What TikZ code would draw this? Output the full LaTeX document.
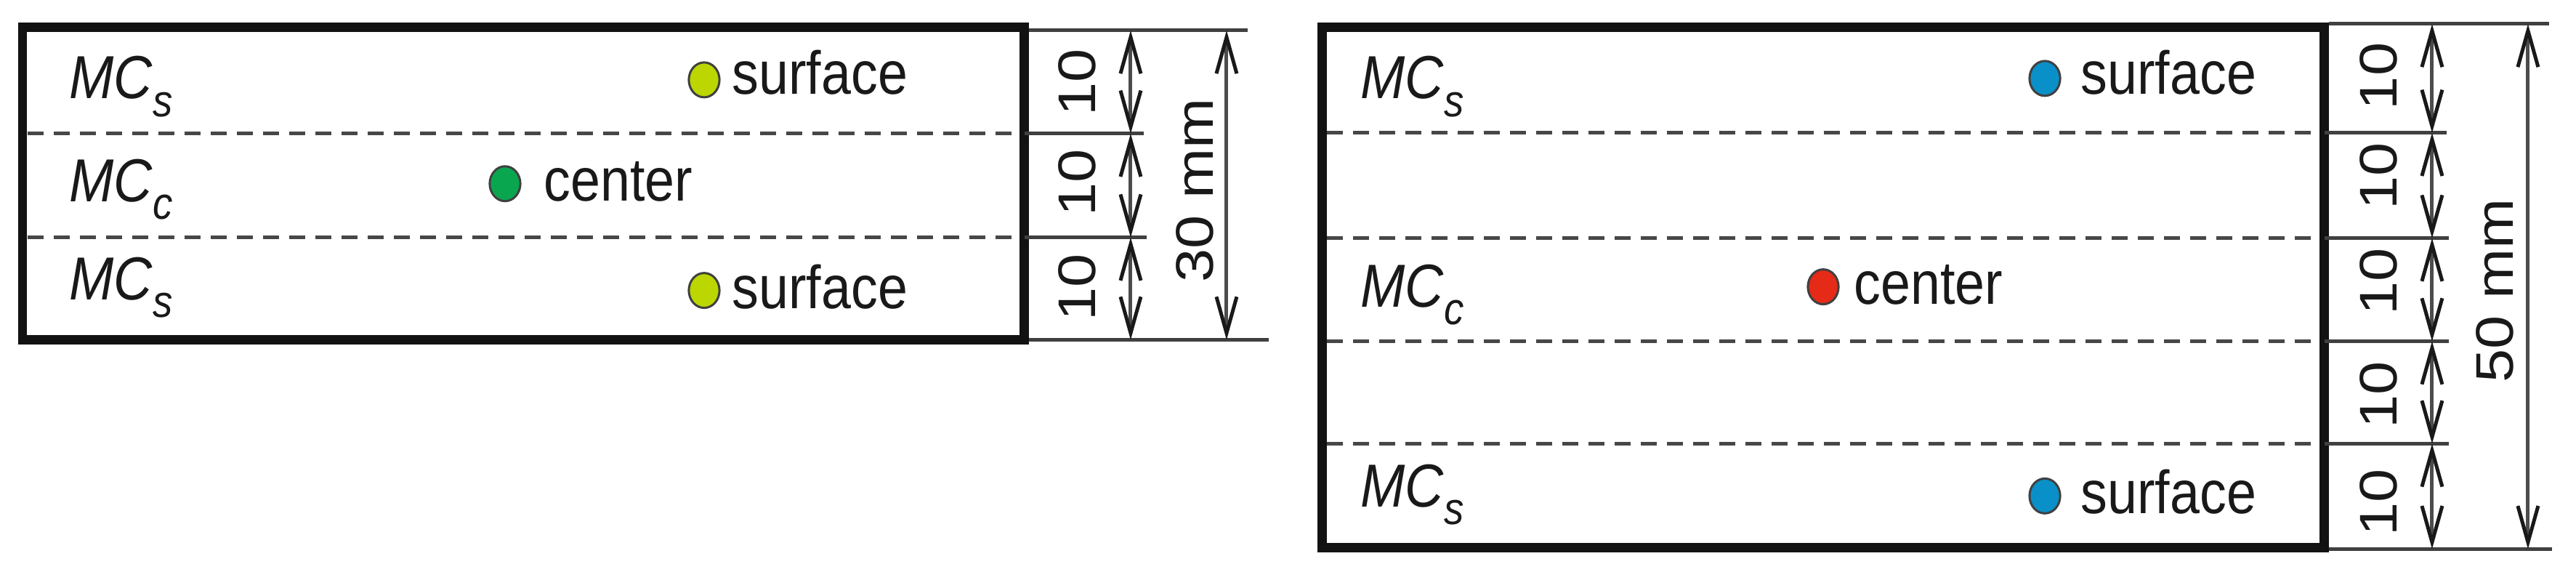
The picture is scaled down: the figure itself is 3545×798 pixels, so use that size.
\documentclass[tikz,border=0pt]{standalone}
\usepackage{fontspec}
\setmainfont{Liberation Sans}
\usepackage{xcolor}
\usepackage{tikz}
\usetikzlibrary{positioning,arrows.meta}
\definecolor{lime}{HTML}{BBD600}
\definecolor{leaf}{HTML}{0AA64F}
\definecolor{tomato}{HTML}{E52A18}
\definecolor{sky}{HTML}{0A90C8}
\newcommand{\mclabel}[1]{\textit{MC}\raisebox{-.29em}{\fontsize{17.7}{20}\selectfont\itshape #1}}

\begin{document}
\begin{tikzpicture}[xscale=0.88, x=0.011364cm, y=-0.01cm,
		slab/.style = {line width=0.13cm, draw=black!93},
		layer/.style = {line width=0.05cm, draw=black!72, dash pattern=on 0.22cm off 0.14cm},
		ext/.style = {line width=0.05cm, draw=black!75},
		dim/.style = {line width=0.05cm, draw=black!70, {Straight Barb[length=0.5cm,width=0.28cm,color=black!90]}-{Straight Barb[length=0.5cm,width=0.28cm,color=black!90]}},
		txt/.style = {transform shape, inner sep=0pt, anchor=base west, text=black!90, font=\fontsize{23.8}{28}\selectfont},
		num/.style = {transform shape, inner sep=0pt, rotate=90, text=black!90, font=\fontsize{23.6}{28}\selectfont},
		ball/.style = {circle, transform shape, draw=black!75, line width=0.03cm, minimum size=0.48cm, inner sep=0pt}]
	\useasboundingbox (0,0) rectangle (3545,798);

	% left sample
	\coordinate (lnw) at (31,38);
	\coordinate (lse) at (1410,468);
	\coordinate (lw1) at (38,184);
	\coordinate (le1) at (1410,184);
	\coordinate (lx1) at (1574,184);
	\coordinate (lw2) at (38,327);
	\coordinate (le2) at (1410,327);
	\coordinate (lx2) at (1578,327);
	\coordinate (lt0) at (1416,42);
	\coordinate (lt1) at (1717,42);
	\coordinate (lb0) at (1416,468);
	\coordinate (lb1) at (1746,468);
	\coordinate (la0) at (1556,42);
	\coordinate (la1) at (1556,184);
	\coordinate (la2) at (1556,327);
	\coordinate (la3) at (1556,468);
	\coordinate (lo0) at (1688,42);
	\coordinate (lo1) at (1688,468);

	\draw[layer] (lw1) -- (le1);
	\draw[layer] (lw2) -- (le2);
	\draw[slab] (lnw) rectangle (lse);
	\draw[ext] (le1) -- (lx1);
	\draw[ext] (le2) -- (lx2);
	\draw[ext] (lt0) -- (lt1);
	\draw[ext] (lb0) -- (lb1);
	\draw[dim] (la0) -- (la1);
	\draw[dim] (la1) -- (la2);
	\draw[dim] (la2) -- (la3);
	\draw[dim] (lo0) -- (lo1);

	\node[txt] (lmc1) at (95,136) {\mclabel{s}};
	\node[txt] (lmc2) at (95,278) {\mclabel{c}};
	\node[txt] (lmc3) at (95,413) {\mclabel{s}};
	\node[ball, fill=lime] (ld1) at (969,110) {};
	\node[ball, fill=leaf] (ld2) at (695,253) {};
	\node[ball, fill=lime] (ld3) at (969,400) {};
	\node[txt] (ls1) at (1007,130) {surface};
	\node[txt] (ls2) at (748,277) {center};
	\node[txt] (ls3) at (1007,425) {surface};
	\node[num] (ln1) at (1482,114) {10};
	\node[num] (ln2) at (1482,252) {10};
	\node[num] (ln3) at (1482,396) {10};
	\node[num] (lnt) at (1644,262) {30 mm};

	% right sample
	\coordinate (rnw) at (1820,38);
	\coordinate (rse) at (3199,754);
	\coordinate (rw1) at (1826,183);
	\coordinate (re1) at (3199,183);
	\coordinate (rx1) at (3367,183);
	\coordinate (rw2) at (1826,328);
	\coordinate (re2) at (3199,328);
	\coordinate (rx2) at (3370,328);
	\coordinate (rw3) at (1826,470);
	\coordinate (re3) at (3199,470);
	\coordinate (rx3) at (3370,470);
	\coordinate (rw4) at (1826,611);
	\coordinate (re4) at (3199,611);
	\coordinate (rx4) at (3370,611);
	\coordinate (rt0) at (3205,33);
	\coordinate (rt1) at (3508,33);
	\coordinate (rb0) at (3205,756);
	\coordinate (rb1) at (3512,756);
	\coordinate (ra0) at (3347,33);
	\coordinate (ra1) at (3347,183);
	\coordinate (ra2) at (3347,328);
	\coordinate (ra3) at (3347,470);
	\coordinate (ra4) at (3347,611);
	\coordinate (ra5) at (3347,756);
	\coordinate (ro0) at (3479,33);
	\coordinate (ro1) at (3479,756);

	\draw[layer] (rw1) -- (re1);
	\draw[layer] (rw2) -- (re2);
	\draw[layer] (rw3) -- (re3);
	\draw[layer] (rw4) -- (re4);
	\draw[slab] (rnw) rectangle (rse);
	\draw[ext] (re1) -- (rx1);
	\draw[ext] (re2) -- (rx2);
	\draw[ext] (re3) -- (rx3);
	\draw[ext] (re4) -- (rx4);
	\draw[ext] (rt0) -- (rt1);
	\draw[ext] (rb0) -- (rb1);
	\draw[dim] (ra0) -- (ra1);
	\draw[dim] (ra1) -- (ra2);
	\draw[dim] (ra2) -- (ra3);
	\draw[dim] (ra3) -- (ra4);
	\draw[dim] (ra4) -- (ra5);
	\draw[dim] (ro0) -- (ro1);

	\node[txt] (rmc1) at (1872,136) {\mclabel{s}};
	\node[txt] (rmc2) at (1872,423) {\mclabel{c}};
	\node[txt] (rmc3) at (1872,698) {\mclabel{s}};
	\node[ball, fill=sky] (rd1) at (2814,108) {};
	\node[ball, fill=tomato] (rd2) at (2509,395) {};
	\node[ball, fill=sky] (rd3) at (2814,683) {};
	\node[txt] (rs1) at (2863,130) {surface};
	\node[txt] (rs2) at (2551,419) {center};
	\node[txt] (rs3) at (2863,707) {surface};
	\node[num] (rn1) at (3273,105) {10};
	\node[num] (rn2) at (3273,243) {10};
	\node[num] (rn3) at (3273,388) {10};
	\node[num] (rn4) at (3273,544) {10};
	\node[num] (rn5) at (3273,692) {10};
	\node[num] (rnt) at (3433,400) {50 mm};
\end{tikzpicture}
\end{document}
